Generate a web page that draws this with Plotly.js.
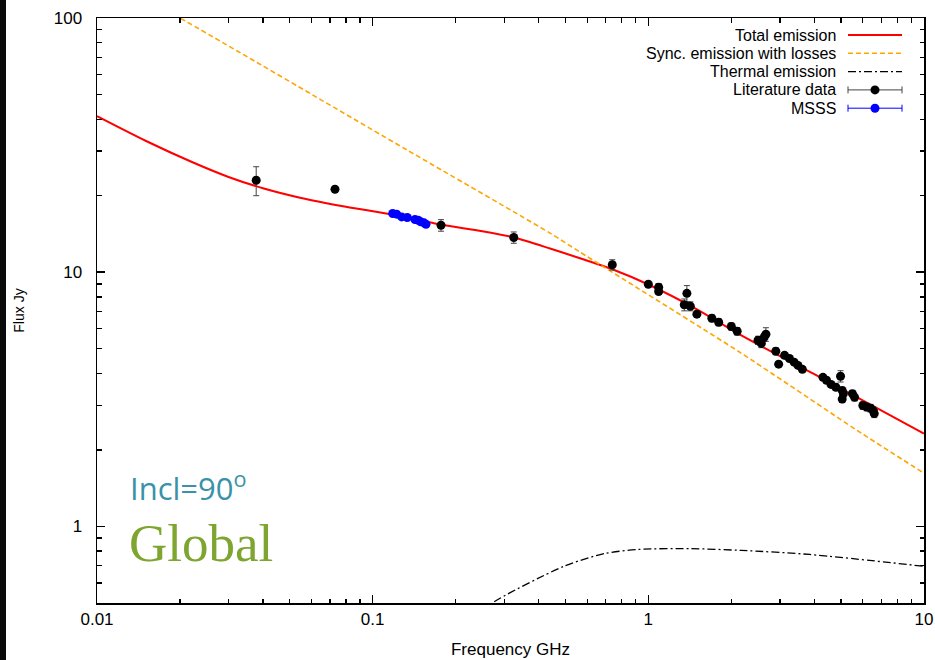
<!DOCTYPE html>
<html>
<head>
<meta charset="utf-8">
<script src="https://cdn.plot.ly/plotly-3.0.1.min.js"></script>
<style>
  html, body { margin: 0; padding: 0; background: #ffffff; }
  #chart { width: 935px; height: 660px; }
</style>
</head>
<body>
<div id="chart"></div>
<script>
// ---- Data ----
// Model curves (frequency in GHz, flux in Jy)
const totalFreq = [0.01, 0.015, 0.022, 0.03, 0.04, 0.055, 0.08, 0.12, 0.177, 0.25, 0.325, 0.44, 0.565, 0.744, 1.0, 1.5, 2.15, 4.0, 10];
const totalFlux = [41.1, 32.9, 27.2, 23.7, 21.4, 19.6, 18.1, 16.8, 15.4, 14.5, 13.7, 12.4, 11.35, 10.25, 8.95, 7.15, 5.68, 3.97, 2.32];

const syncFreq = [0.015, 0.02, 0.1336, 0.44, 0.565, 2.15, 5.71, 10];
const syncFlux = [118, 100, 30.2, 14.25, 12.0, 4.84, 2.39, 1.62];

const thermFreq = [0.25, 0.266, 0.494, 0.697, 0.925, 1.42, 2.17, 3.85, 10];
const thermFlux = [0.46, 0.493, 0.697, 0.783, 0.812, 0.818, 0.805, 0.776, 0.697];

// Literature data
const litFreq = [0.0378, 0.073, 0.177, 0.325, 0.74, 1.0, 1.09, 1.09, 1.38, 1.35, 1.42, 1.5, 1.70, 1.80, 2.0, 2.10,
                 2.50, 2.57, 2.63, 2.67, 2.90, 2.97, 3.12, 3.25, 3.38, 3.49, 3.62, 4.30, 4.43, 4.6, 4.79, 4.98,
                 5.05, 5.05, 5.1, 5.5, 5.6, 6.0, 6.2, 6.4, 6.55, 6.6];
const litFlux = [23.0, 21.2, 15.3, 13.7, 10.7, 8.97, 8.73, 8.4, 8.26, 7.45, 7.35, 6.84, 6.59, 6.36, 6.12, 5.86,
                 5.40, 5.25, 5.54, 5.70, 4.89, 4.35, 4.71, 4.58, 4.43, 4.30, 4.15, 3.86, 3.76, 3.62, 3.53, 3.90,
                 3.43, 3.17, 3.33, 3.33, 3.22, 2.99, 2.95, 2.92, 2.85, 2.78];
const litErr  = [3.0, 0.3, 0.8, 0.7, 0.5, 0.2, 0.3, 0.2, 0.6, 0.4, 0.3, 0.2, 0.2, 0.2, 0.2, 0.2,
                 0.2, 0.2, 0.2, 0.35, 0.15, 0.1, 0.1, 0.1, 0.1, 0.1, 0.1, 0.1, 0.1, 0.1, 0.1, 0.2,
                 0.1, 0.1, 0.1, 0.1, 0.1, 0.1, 0.1, 0.1, 0.1, 0.1];

// MSSS data
const msssFreq = [0.1182, 0.1222, 0.1274, 0.1335, 0.1424, 0.1463, 0.1494, 0.1535, 0.1561];
const msssFlux = [17.02, 16.92, 16.51, 16.42, 16.13, 16.02, 15.78, 15.64, 15.45];

// Tick labels
const xTickVals = [0.01, 0.1, 1, 10];
const xTickText = ['0.01', '0.1', '1', '10'];
const yTickVals = [1, 10, 100];
const yTickText = ['1', '10', '100'];
const xMinor = [0.02,0.03,0.04,0.05,0.06,0.07,0.08,0.09,0.2,0.3,0.4,0.5,0.6,0.7,0.8,0.9,2,3,4,5,6,7,8,9];
const yMinor = [0.5,0.6,0.7,0.8,0.9,2,3,4,5,6,7,8,9,20,30,40,50,60,70,80,90];

const legendLabels = ['Total emission', 'Sync. emission with losses', 'Thermal emission', 'Literature data', 'MSSS'];

// ---- Helpers for paper coordinates from pixel positions ----
const L = 97, R = 924, T = 18, B = 603;
const px = x => (x - L) / (R - L);
const py = y => (B - y) / (B - T);

const FONT = 'Liberation Sans, Arial, Helvetica, sans-serif';
const XR = [-2, 1];
const YR = [Math.log10(0.5), 2];
const TICKC = '#000000';

const traces = [
  { x: totalFreq, y: totalFlux, type: 'scatter', mode: 'lines', name: legendLabels[0],
    line: { color: '#ff0000', width: 2, shape: 'spline', smoothing: 0.8 }, showlegend: false },
  { x: syncFreq, y: syncFlux, type: 'scatter', mode: 'lines', name: legendLabels[1],
    line: { color: '#ffa500', width: 1.6, dash: '5px,3px', shape: 'spline', smoothing: 0.6 }, showlegend: false },
  { x: thermFreq, y: thermFlux, type: 'scatter', mode: 'lines', name: legendLabels[2],
    line: { color: '#000000', width: 1.3, dash: '8px,3px,2px,3px', shape: 'spline', smoothing: 0.8 }, showlegend: false },
  { x: litFreq, y: litFlux, type: 'scatter', mode: 'markers', name: legendLabels[3],
    marker: { color: '#000000', size: 9, symbol: 'circle' },
    error_y: { type: 'data', array: litErr, visible: true, color: '#444444', thickness: 1, width: 3 },
    showlegend: false },
  { x: msssFreq, y: msssFlux, type: 'scatter', mode: 'markers', name: legendLabels[4],
    marker: { color: '#0000ff', size: 9, symbol: 'circle' }, showlegend: false },
  // empty trace carrying the minor-tick overlay axes
  { x: [], y: [], type: 'scatter', mode: 'markers', xaxis: 'x2', yaxis: 'y2', showlegend: false, hoverinfo: 'skip' }
];

// ---- Custom legend (text right, sample on the right like the reference) ----
const rowsY = [35, 53.3, 71.6, 89.9, 108.2];
const annotations = [];
const shapes = [];
legendLabels.forEach((lab, i) => {
  annotations.push({ xref: 'paper', yref: 'paper', x: px(838), y: py(rowsY[i]), xanchor: 'right', yanchor: 'middle',
    text: lab, showarrow: false, font: { family: FONT, size: 16, color: '#000' } });
});
const lineX0 = px(848), lineX1 = px(902);
shapes.push({ type: 'line', xref: 'paper', yref: 'paper', x0: lineX0, x1: lineX1, y0: py(rowsY[0]), y1: py(rowsY[0]),
  line: { color: '#ff0000', width: 2 } });
shapes.push({ type: 'line', xref: 'paper', yref: 'paper', x0: lineX0, x1: lineX1, y0: py(rowsY[1]), y1: py(rowsY[1]),
  line: { color: '#ffa500', width: 1.6, dash: '5px,3px' } });
shapes.push({ type: 'line', xref: 'paper', yref: 'paper', x0: lineX0, x1: lineX1, y0: py(rowsY[2]), y1: py(rowsY[2]),
  line: { color: '#000000', width: 1.3, dash: '8px,3px,2px,3px' } });
[[3, '#444444', '#000000'], [4, '#0000ff', '#0000ff']].forEach(([i, lc, mc]) => {
  const yy = rowsY[i];
  shapes.push({ type: 'line', xref: 'paper', yref: 'paper', x0: lineX0, x1: lineX1, y0: py(yy), y1: py(yy), line: { color: lc, width: 1 } });
  shapes.push({ type: 'line', xref: 'paper', yref: 'paper', x0: lineX0, x1: lineX0, y0: py(yy - 3.5), y1: py(yy + 3.5), line: { color: lc, width: 1 } });
  shapes.push({ type: 'line', xref: 'paper', yref: 'paper', x0: lineX1, x1: lineX1, y0: py(yy - 3.5), y1: py(yy + 3.5), line: { color: lc, width: 1 } });
  shapes.push({ type: 'circle', xref: 'paper', yref: 'paper', x0: px(875 - 4.5), x1: px(875 + 4.5), y0: py(yy + 4.5), y1: py(yy - 4.5),
    fillcolor: mc, line: { color: mc, width: 0 } });
});
// dark strip at the very left edge of the picture
shapes.push({ type: 'rect', xref: 'paper', yref: 'paper', x0: px(0), x1: px(6), y0: py(660), y1: py(0),
  fillcolor: '#0a0a0a', line: { width: 0 }, layer: 'above' });

// Text labels inside the plot
annotations.push({ xref: 'paper', yref: 'paper', x: px(128), y: py(486), xanchor: 'left', yanchor: 'middle',
  text: 'Incl=90<sup>o</sup>', showarrow: false, font: { family: 'Open Sans, Noto Sans, sans-serif', size: 31, color: '#3a92a8' } });
annotations.push({ xref: 'paper', yref: 'paper', x: px(127), y: py(543), xanchor: 'left', yanchor: 'middle',
  text: 'Global', showarrow: false, font: { family: 'Liberation Serif, Times New Roman, serif', size: 53, color: '#7ea52f' } });

const axisCommon = {
  type: 'log', showline: true, linecolor: '#000', linewidth: 1.5, mirror: 'ticks',
  ticks: 'inside', ticklen: 8, tickwidth: 1.5, tickcolor: TICKC,
  showgrid: false, zeroline: false, automargin: false,
  tickfont: { family: FONT, size: 17, color: '#000' }
};
const minorAxis = {
  type: 'log', mirror: 'ticks', ticks: 'inside', ticklen: 4.5, tickwidth: 1.3, tickcolor: TICKC,
  showgrid: false, zeroline: false, showticklabels: false
};

const layout = {
  width: 935, height: 660,
  margin: { l: L, r: 935 - R, t: T, b: 660 - B },
  paper_bgcolor: '#ffffff', plot_bgcolor: '#ffffff',
  showlegend: false,
  font: { family: FONT, color: '#000' },
  xaxis: Object.assign({}, axisCommon, {
    range: XR, tickmode: 'array', tickvals: xTickVals, ticktext: xTickText,
    ticklabelstandoff: 0,
    title: { text: 'Frequency GHz', font: { family: FONT, size: 17, color: '#000' }, standoff: 15 }
  }),
  yaxis: Object.assign({}, axisCommon, {
    range: YR, tickmode: 'array', tickvals: yTickVals, ticktext: yTickText,
    ticklabelstandoff: 10,
    title: { text: 'Flux Jy', font: { family: FONT, size: 14, color: '#000' }, standoff: 26 }
  }),
  xaxis2: Object.assign({}, minorAxis, { range: XR, overlaying: 'x', anchor: 'y2', side: 'bottom',
    tickmode: 'array', tickvals: xMinor }),
  yaxis2: Object.assign({}, minorAxis, { range: YR, overlaying: 'y', anchor: 'x2', side: 'left',
    tickmode: 'array', tickvals: yMinor }),
  annotations: annotations,
  shapes: shapes
};

Plotly.newPlot('chart', traces, layout, { displayModeBar: false, staticPlot: true });
</script>
</body>
</html>
